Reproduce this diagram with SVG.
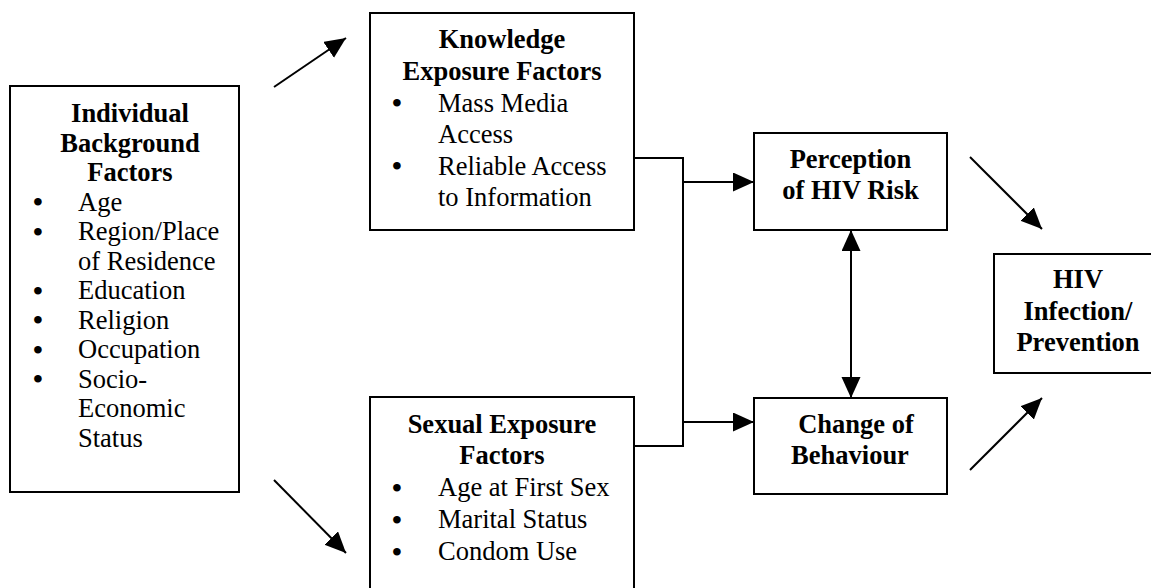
<svg xmlns="http://www.w3.org/2000/svg" width="1151" height="588" viewBox="0 0 1151 588">
<style>
.box{fill:#fff;stroke:#000;stroke-width:2}
text{font-family:"Liberation Serif","Times New Roman",serif;font-size:26.5px;fill:#000}
.t{font-weight:bold;text-anchor:middle}
.b{text-anchor:middle;font-size:28px;font-weight:bold}
.ln{fill:none;stroke:#000;stroke-width:2}
</style>
<defs>
<marker id="ah" markerUnits="userSpaceOnUse" markerWidth="22" markerHeight="20" refX="21" refY="9.5" orient="auto-start-reverse">
<path d="M0,0 L21,9.5 L0,19 z" fill="#000"/>
</marker>
</defs>
<g id="background">
<rect class="box" x="10" y="86" width="229" height="406"/>
<text class="t" x="130" y="122">Individual</text>
<text class="t" x="130" y="151.5">Background</text>
<text class="t" x="130" y="181">Factors</text>
<text class="b" x="38" y="211">•</text><text x="78" y="210.5">Age</text>
<text class="b" x="38" y="240.5">•</text><text x="78" y="240">Region/Place</text>
<text x="78" y="269.5">of Residence</text>
<text class="b" x="38" y="299.5">•</text><text x="78" y="299">Education</text>
<text class="b" x="38" y="329">•</text><text x="78" y="328.5">Religion</text>
<text class="b" x="38" y="358.5">•</text><text x="78" y="358">Occupation</text>
<text class="b" x="38" y="388">•</text><text x="78" y="387.5">Socio-</text>
<text x="78" y="417">Economic</text>
<text x="78" y="446.5">Status</text>
</g>
<g id="knowledge">
<rect class="box" x="370" y="13" width="264" height="217"/>
<text class="t" x="502" y="48">Knowledge</text>
<text class="t" x="502" y="79.5">Exposure Factors</text>
<text class="b" x="397" y="112">•</text><text x="438" y="111.5">Mass Media</text>
<text x="438" y="143">Access</text>
<text class="b" x="397" y="175">•</text><text x="438" y="174.5">Reliable Access</text>
<text x="438" y="206">to Information</text>
</g>
<g id="sexual">
<rect class="box" x="370" y="397" width="264" height="205"/>
<text class="t" x="502" y="433">Sexual Exposure</text>
<text class="t" x="502" y="464">Factors</text>
<text class="b" x="397" y="496.5">•</text><text x="438" y="496">Age at First Sex</text>
<text class="b" x="397" y="528.5">•</text><text x="438" y="528">Marital Status</text>
<text class="b" x="397" y="560.5">•</text><text x="438" y="560">Condom Use</text>
</g>
<g id="perception">
<rect class="box" x="754" y="133" width="193" height="97"/>
<text class="t" x="850.5" y="168">Perception</text>
<text class="t" x="850.5" y="198.5">of HIV Risk</text>
</g>
<g id="change">
<rect class="box" x="754" y="398" width="193" height="96"/>
<text class="t" x="856" y="433">Change of</text>
<text class="t" x="850" y="463.5">Behaviour</text>
</g>
<g id="hiv">
<rect class="box" x="994" y="254" width="170" height="119"/>
<text class="t" x="1078" y="288">HIV</text>
<text class="t" x="1078" y="319.5">Infection/</text>
<text class="t" x="1078" y="351">Prevention</text>
</g>
<g id="connectors">
<line class="ln" x1="274" y1="87" x2="346" y2="38" marker-end="url(#ah)"/>
<line class="ln" x1="274" y1="480" x2="346" y2="553" marker-end="url(#ah)"/>
<path class="ln" d="M634,158 H683 V446 H634"/>
<line class="ln" x1="683" y1="182" x2="754" y2="182" marker-end="url(#ah)"/>
<line class="ln" x1="683" y1="422" x2="754" y2="422" marker-end="url(#ah)"/>
<line class="ln" x1="851" y1="230" x2="851" y2="398" marker-start="url(#ah)" marker-end="url(#ah)"/>
<line class="ln" x1="970" y1="157" x2="1042" y2="229" marker-end="url(#ah)"/>
<line class="ln" x1="970" y1="470" x2="1042" y2="398" marker-end="url(#ah)"/>
</g>
</svg>
